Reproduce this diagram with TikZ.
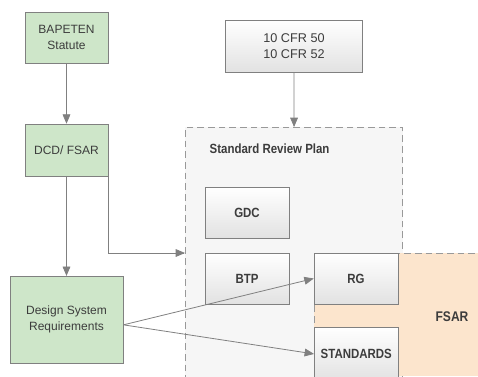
\documentclass[tikz,border=0pt]{standalone}
\usepackage{fontspec}
\setmainfont{Liberation Sans}
\newfontfamily\condfont[FakeStretch=0.86]{Liberation Sans}
\usetikzlibrary{arrows}

\definecolor{linegray}{RGB}{128,128,128}
\definecolor{txtgray}{RGB}{60,60,60}
\definecolor{greenfill}{RGB}{206,230,201}
\definecolor{peach}{RGB}{252,229,205}
\definecolor{planfill}{RGB}{246,246,246}
\definecolor{boxgray}{RGB}{226,226,226}

\begin{document}
\begin{tikzpicture}[x=0.75pt,y=-0.75pt]
\tikzstyle{greenbox} = [draw=linegray,fill=greenfill,text=txtgray,align=center,inner sep=0pt,font=\fontsize{9}{12}\selectfont]
\tikzstyle{graybox} = [draw=linegray,top color=white,bottom color=boxgray,text=txtgray,align=center,inner sep=0pt,minimum width=63pt,minimum height=38pt,font=\condfont\bfseries\fontsize{10}{12}\selectfont]
\tikzstyle{dashbox} = [draw=linegray!80,dashed,dash pattern=on 5pt off 3pt,line width=0.6pt]
\tikzstyle{link} = [draw=linegray,line width=0.6pt,->,>=triangle 45]

\useasboundingbox (0,0) rectangle (478,376);

% inputs on the left
\node[greenbox,minimum width=62pt,minimum height=38pt] (bapeten) at (66.5,37.5) {BAPETEN\\Statute};
\node[greenbox,minimum width=62pt,minimum height=39pt] (dcd) at (66.5,150) {DCD/ FSAR};
\node[greenbox,minimum width=85pt,minimum height=65pt] (dsr) at (66.5,319.5) {Design System\\Requirements};

% regulations
\node[draw=linegray,top color=white,bottom color=boxgray,text=txtgray,align=center,inner sep=0pt,
      minimum width=103pt,minimum height=39pt,font=\fontsize{9.5}{12}\selectfont] (cfr) at (294,46) {10 CFR 50\\10 CFR 52};

% review plan frame
\node[dashbox,fill=planfill,anchor=north west,minimum width=163pt,minimum height=200pt] (srp) at (185,127) {};
\node[anchor=west,text=txtgray,font=\condfont\bfseries\fontsize{10}{12}\selectfont] (srptitle) at (205,149) {Standard Review Plan};
\node[graybox] (gdc) at (247,212.5) {GDC};
\node[graybox] (btp) at (247,278.5) {BTP};

% FSAR area on top of the plan
\fill[peach] (314,253) rectangle (478,376);
\draw[dashbox] (314,376) -- (314,253) -- (478,253);
\node[text=txtgray,font=\condfont\bfseries\fontsize{10.5}{12}\selectfont] (fsarlabel) at (452,317) {FSAR};
\node[graybox] (rg) at (356,278.5) {RG};
\node[graybox,anchor=north west,minimum height=40pt] (std) at (314,327) {STANDARDS};

\coordinate (srpin) at (185,253);

\draw[link] (bapeten) -- (dcd);
\draw[link] (dcd) -- (dsr);
\draw[link] (dcd.south east) |- (srpin);
\draw[link] (cfr) -- (srp.north);
\draw[link] ([yshift=-4]dsr.east) -- (rg.west);
\draw[link] ([yshift=-4]dsr.east) -- (std.west);
\end{tikzpicture}
\end{document}
